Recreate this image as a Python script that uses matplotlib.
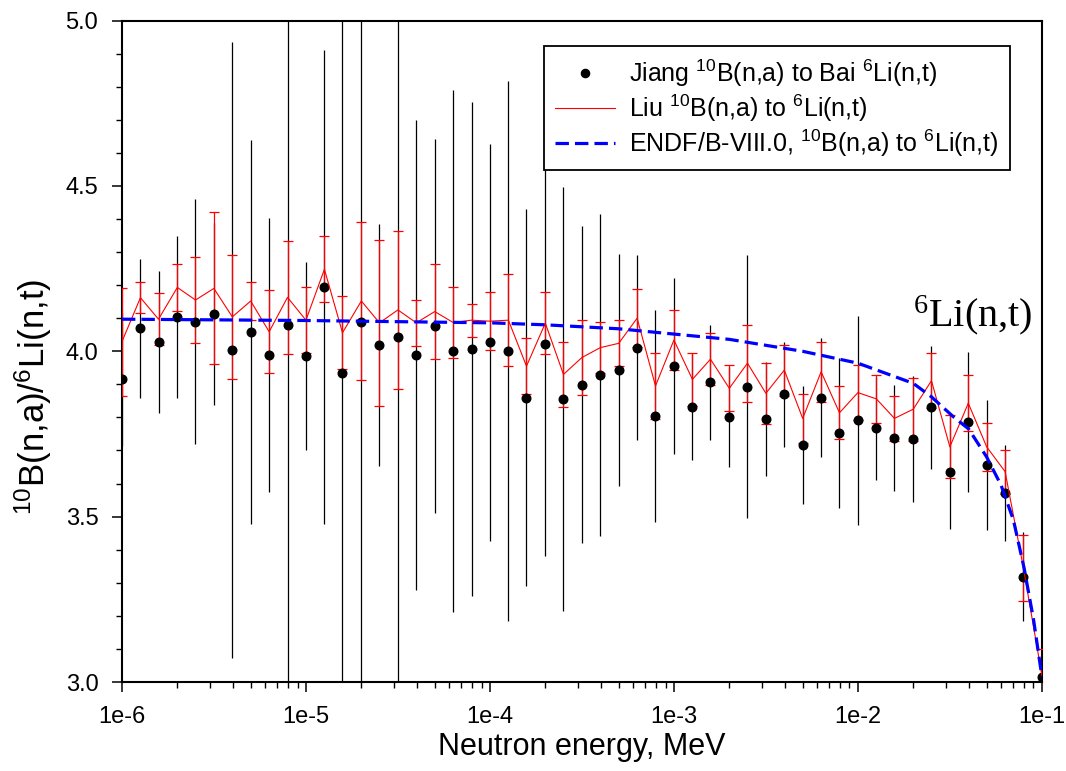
import math
import matplotlib
matplotlib.use("Agg")
import matplotlib.pyplot as plt
from matplotlib.ticker import LogLocator, FuncFormatter, MultipleLocator, NullFormatter

plt.rcParams["font.family"] = ["Liberation Sans", "DejaVu Sans"]

# neutron energy grid, 10 points per decade (MeV)
mantissa = [1.0, 1.26, 1.58, 2.0, 2.51, 3.16, 3.98, 5.01, 6.31, 7.94]
decades = [1e-6, 1e-5, 1e-4, 1e-3, 1e-2]
energy = [m * d for d in decades for m in mantissa] + [0.1]

# Jiang 10B(n,a) to Bai 6Li(n,t)
jiang = [3.915, 4.069, 4.029, 4.103, 4.089, 4.113, 4.004, 4.059, 3.989, 4.079,
         3.986, 4.195, 3.935, 4.089, 4.019, 4.044, 3.989, 4.076, 4.001, 4.007,
         4.027, 4.001, 3.860, 4.021, 3.856, 3.899, 3.928, 3.943, 4.011, 3.805,
         3.956, 3.832, 3.906, 3.802, 3.893, 3.795, 3.870, 3.717, 3.860, 3.754,
         3.792, 3.767, 3.739, 3.734, 3.830, 3.634, 3.787, 3.656, 3.572, 3.318,
         3.016]
jiang_err = [0.2, 0.21, 0.215, 0.245, 0.37, 0.275, 0.93, 0.58, 0.415, 1.2,
             0.285, 0.717, 1.2, 1.2, 0.365, 1.2, 0.71, 0.565, 0.79, 0.747,
             0.6, 0.815, 0.57, 0.64, 0.64, 0.48, 0.487, 0.35, 0.28, 0.32,
             0.267, 0.16, 0.173, 0.151, 0.397, 0.172, 0.158, 0.179, 0.18, 0.227,
             0.316, 0.156, 0.16, 0.19, 0.187, 0.172, 0.212, 0.197, 0.145, 0.135,
             0.05]

# Liu 10B(n,a) to 6Li(n,t)
liu = [4.029, 4.162, 4.097, 4.193, 4.155, 4.190, 4.104, 4.152, 4.059, 4.163,
       4.094, 4.248, 4.056, 4.152, 4.086, 4.125, 4.086, 4.120, 4.087, 4.094,
       4.091, 4.094, 3.955, 4.085, 3.930, 3.981, 4.011, 4.024, 4.100, 3.895,
       4.034, 3.915, 3.976, 3.888, 3.964, 3.873, 3.943, 3.797, 3.938, 3.814,
       3.875, 3.856, 3.797, 3.825, 3.911, 3.711, 3.843, 3.711, 3.636, 3.344,
       3.02]
liu_err = [0.163, 0.047, 0.078, 0.07, 0.13, 0.23, 0.187, 0.057, 0.126, 0.17,
           0.1, 0.1, 0.11, 0.24, 0.25, 0.24, 0.07, 0.143, 0.108, 0.05,
           0.088, 0.14, 0.085, 0.093, 0.097, 0.113, 0.077, 0.07, 0.088, 0.1,
           0.09, 0.08, 0.078, 0.07, 0.116, 0.093, 0.077, 0.074, 0.09, 0.08,
           0.083, 0.073, 0.068, 0.095, 0.083, 0.095, 0.084, 0.073, 0.067, 0.1,
           0.08]

# ENDF/B-VIII.0 ratio
endf_e = [1e-6, 1e-5, 1e-4, 2e-4, 5e-4, 1e-3, 2e-3, 5e-3, 1e-2, 2e-2,
          2.5e-2, 3.3e-2, 4e-2, 5e-2, 6e-2, 7e-2, 8e-2, 9e-2, 1e-1]
endf = [4.097, 4.093, 4.086, 4.080, 4.068, 4.052, 4.036, 4.000, 3.964, 3.903,
        3.863, 3.802, 3.765, 3.681, 3.595, 3.490, 3.345, 3.190, 3.016]

fig = plt.figure(figsize=(10.66, 7.71), dpi=100)
ax = fig.add_axes([0.1144, 0.1154, 0.863, 0.858])

ax.errorbar(energy, jiang, yerr=jiang_err, fmt="none", ecolor="black",
            elinewidth=0.9, capsize=0, zorder=2)
ax.errorbar(energy, liu, yerr=liu_err, fmt="none", ecolor="red",
            elinewidth=0.9, capsize=3.6, capthick=0.9, zorder=3)
ax.plot(energy, jiang, "o", color="black", ms=6.2, zorder=4,
        label=r"Jiang $\mathregular{^{10}}$B(n,a) to Bai $\mathregular{^{6}}$Li(n,t)")
ax.plot(energy, liu, "-", color="red", lw=0.8, zorder=5,
        label=r"Liu $\mathregular{^{10}}$B(n,a) to $\mathregular{^{6}}$Li(n,t)")
ax.plot(endf_e, endf, "--", color="#0000ff", lw=2.3, dashes=(4.2, 1.9), zorder=6,
        label=r"ENDF/B-VIII.0, $\mathregular{^{10}}$B(n,a) to $\mathregular{^{6}}$Li(n,t)")

ax.set_xscale("log")
ax.set_xlim(1e-6, 1e-1)
ax.set_ylim(3.0, 5.0)
ax.xaxis.set_major_locator(LogLocator(base=10, numticks=10))
ax.xaxis.set_minor_locator(LogLocator(base=10, subs=range(2, 10), numticks=20))
ax.xaxis.set_minor_formatter(NullFormatter())
ax.xaxis.set_major_formatter(FuncFormatter(lambda v, p: "1e%d" % round(math.log10(v))))
ax.yaxis.set_major_locator(MultipleLocator(0.5))
ax.yaxis.set_minor_locator(MultipleLocator(0.1))
ax.yaxis.set_major_formatter(FuncFormatter(lambda v, p: "%.1f" % v))

ax.tick_params(which="major", direction="out", length=7, width=1.1, labelsize=17, pad=10)
ax.tick_params(which="minor", direction="out", length=4, width=1.0)
for s in ax.spines.values():
    s.set_linewidth(1.5)

ax.set_xlabel("Neutron energy, MeV", fontsize=22, labelpad=3)
ax.set_ylabel(r"$\mathregular{^{10}}$B(n,a)/$\mathregular{^{6}}$Li(n,t)", fontsize=25)
ax.yaxis.set_label_coords(-0.074, 0.431)

ax.text(0.86, 0.538, r"$\mathregular{^{6}}$Li(n,t)", transform=ax.transAxes,
        fontsize=29, family=["Liberation Serif", "DejaVu Serif"], ha="left", va="baseline")

leg = ax.legend(loc="upper right", bbox_to_anchor=(0.965, 0.9615), fontsize=18,
                frameon=True, fancybox=False, edgecolor="black", framealpha=1,
                borderaxespad=0, handlelength=2.4, labelspacing=0.15,
                borderpad=0.45, handletextpad=0.55, markerscale=0.95)
leg.get_frame().set_linewidth(1.3)

fig.savefig("out.png", dpi=100)
